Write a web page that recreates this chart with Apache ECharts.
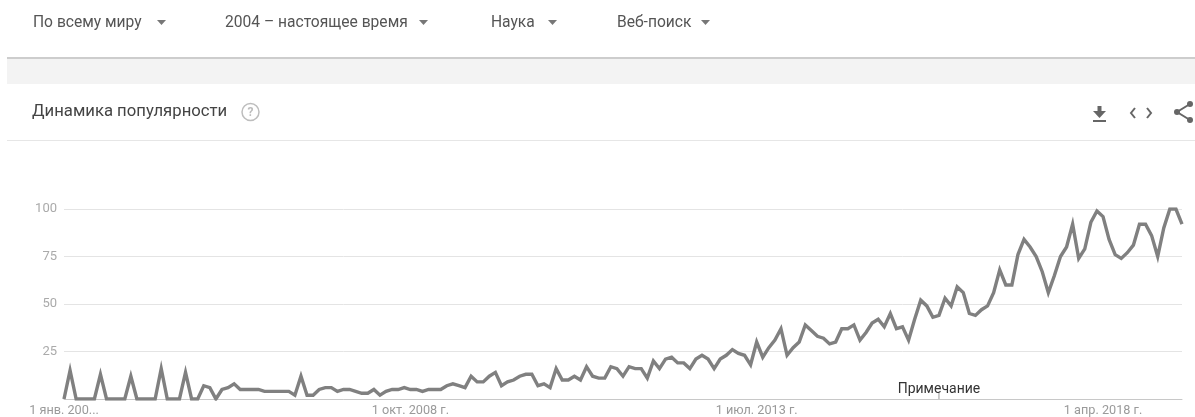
<!DOCTYPE html>
<html>
<head>
<meta charset="utf-8">
<script src="https://cdn.jsdelivr.net/npm/echarts@6.0.0/dist/echarts.min.js"></script>
<style>
html, body { margin: 0; padding: 0; background: #fff; }
#main { width: 1195px; height: 417px; }
</style>
</head>
<body>
<div id="main"></div>
<script>
// данные
var monthNames = ['янв.', 'февр.', 'мар.', 'апр.', 'мая', 'июн.', 'июл.', 'авг.', 'сент.', 'окт.', 'нояб.', 'дек.'];
var startYear = 2004;
var values = [
    0, 15, 0, 0, 0, 0, 13, 0, 0, 0, 0, 12, 0, 0, 0, 0, 16, 0, 0, 0,
    14, 0, 0, 7, 6, 0, 5, 6, 8, 5, 5, 5, 5, 4, 4, 4, 4, 4, 2, 12,
    2, 2, 5, 6, 6, 4, 5, 5, 4, 3, 3, 5, 2, 4, 5, 5, 6, 5, 5, 4,
    5, 5, 5, 7, 8, 7, 6, 12, 9, 9, 12, 14, 7, 9, 10, 12, 13, 13, 7, 8,
    6, 16, 10, 10, 12, 10, 17, 12, 11, 11, 17, 16, 12, 17, 16, 16, 11, 20, 16, 21,
    22, 19, 19, 16, 21, 23, 21, 16, 21, 23, 26, 24, 23, 18, 30, 22, 27, 31, 37, 23,
    27, 30, 39, 36, 33, 32, 29, 30, 37, 37, 39, 31, 35, 40, 42, 38, 45, 37, 38, 31,
    42, 52, 49, 43, 44, 53, 49, 59, 56, 45, 44, 47, 49, 56, 68, 60, 60, 76, 84, 80,
    75, 67, 56, 65, 75, 80, 92, 74, 79, 93, 99, 96, 84, 76, 74, 77, 81, 92, 92, 86,
    75, 90, 100, 100, 92
];
var filters = ['По всему миру', '2004 – настоящее время', 'Наука', 'Веб-поиск'];
var noteIndex = 144; // 1 янв. 2016 г.
var noteText = 'Примечание';

var categories = [];
for (var i = 0; i < values.length; i++) {
    categories.push('1 ' + monthNames[i % 12] + ' ' + (startYear + Math.floor(i / 12)) + ' г.');
}

var chartDom = document.getElementById('main');
var myChart = echarts.init(chartDom);

var filterX = [33, 225, 491, 617];
var arrowX = [157, 419, 548, 701];
var graphics = [
    // серая полоса под фильтрами
    { type: 'rect', shape: { x: 7, y: 57, width: 1188, height: 27 }, style: { fill: '#f3f3f3' } },
    { type: 'rect', shape: { x: 7, y: 57, width: 1188, height: 2 }, style: { fill: '#cdcdcd' } },
    { type: 'rect', shape: { x: 7, y: 140, width: 1188, height: 1 }, style: { fill: '#e6e6e6' } },
    {
        type: 'text',
        style: { text: 'Динамика популярности', x: 32, y: 112, fill: '#444', font: '16.7px Roboto', verticalAlign: 'middle' }
    },
    { type: 'circle', shape: { cx: 250.5, cy: 112, r: 8.5 }, style: { fill: 'none', stroke: '#bdbdbd', lineWidth: 1.5 } },
    {
        type: 'text',
        style: { text: '?', x: 250.5, y: 112.5, fill: '#bdbdbd', font: 'bold 12px Roboto', align: 'center', verticalAlign: 'middle' }
    },
    // иконки справа
    { type: 'rect', shape: { x: 1097.5, y: 106, width: 4, height: 6 }, style: { fill: '#666' } },
    { type: 'polygon', shape: { points: [[1093, 111], [1106, 111], [1099.5, 118]] }, style: { fill: '#666' } },
    { type: 'rect', shape: { x: 1093, y: 120, width: 13, height: 2 }, style: { fill: '#666' } },
    { type: 'polyline', shape: { points: [[1135, 108], [1131, 113], [1135, 118]] }, style: { stroke: '#666', lineWidth: 2, fill: 'none' } },
    { type: 'polyline', shape: { points: [[1147, 108], [1151, 113], [1147, 118]] }, style: { stroke: '#666', lineWidth: 2, fill: 'none' } },
    { type: 'polyline', shape: { points: [[1190, 104], [1177, 112], [1190, 120]] }, style: { stroke: '#666', lineWidth: 2, fill: 'none' } },
    { type: 'circle', shape: { cx: 1190, cy: 104, r: 3 }, style: { fill: '#666' } },
    { type: 'circle', shape: { cx: 1177, cy: 112, r: 3 }, style: { fill: '#666' } },
    { type: 'circle', shape: { cx: 1190, cy: 120, r: 3 }, style: { fill: '#666' } }
];
filters.forEach(function (name, k) {
    graphics.push({
        type: 'text',
        style: { text: name, x: filterX[k], y: 23, fill: '#555', font: '15.6px Roboto', verticalAlign: 'middle' }
    });
    graphics.push({
        type: 'polygon',
        shape: { points: [[arrowX[k], 20], [arrowX[k] + 9, 20], [arrowX[k] + 4.5, 25]] },
        style: { fill: '#777' }
    });
});

var option = {
    animation: false,
    backgroundColor: '#fff',
    grid: { left: 64, right: 13, top: 209, bottom: 14 },
    xAxis: {
        type: 'category',
        data: categories,
        boundaryGap: false,
        axisLine: { lineStyle: { color: '#c8c8c8', width: 1 } },
        axisTick: { show: false },
        axisLabel: {
            interval: 56,
            margin: 5,
            color: '#9a9a9a',
            fontFamily: 'Roboto',
            fontSize: 12.7,
            formatter: function (value, index) {
                return index === 0 ? value.slice(0, 10) + '...' : value;
            }
        }
    },
    yAxis: {
        type: 'value',
        min: 0,
        max: 100,
        interval: 25,
        axisLine: { show: false },
        axisTick: { show: false },
        axisLabel: {
            showMinLabel: false,
            margin: 7,
            color: '#aaaaaa',
            fontFamily: 'Roboto',
            fontSize: 13
        },
        splitLine: { lineStyle: { color: '#e4e4e4' } }
    },
    graphic: graphics,
    series: [
        {
            type: 'line',
            data: values,
            symbol: 'none',
            lineStyle: { color: '#808080', width: 3.4, join: 'miter' },
            markPoint: {
                symbol: 'rect',
                symbolSize: [1, 6],
                symbolOffset: [0, -3],
                itemStyle: { color: '#999' },
                label: {
                    show: true,
                    position: 'top',
                    distance: -3,
                    formatter: noteText,
                    color: '#333',
                    fontFamily: 'Roboto',
                    fontSize: 14
                },
                data: [{ coord: [noteIndex, 0] }]
            }
        }
    ]
};
option && myChart.setOption(option);
</script>
</body>
</html>
